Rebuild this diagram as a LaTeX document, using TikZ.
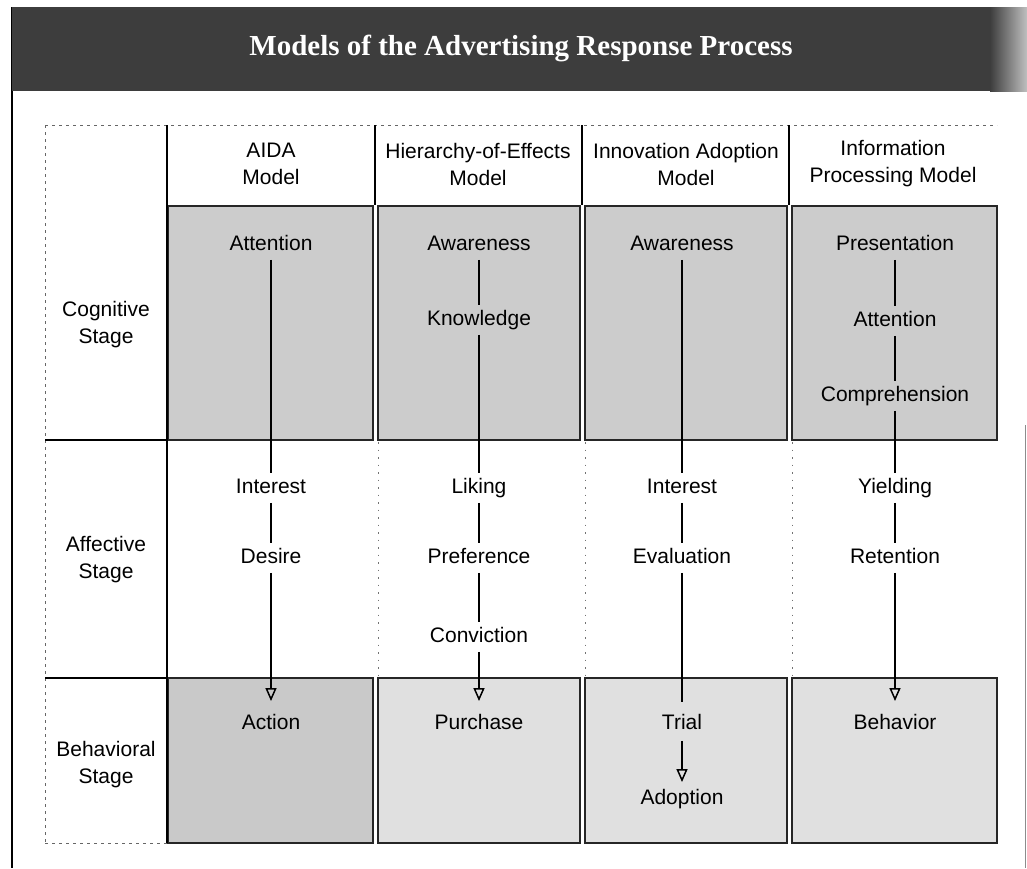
\documentclass[tikz,border=0pt]{standalone}
\usepackage{fontspec}
\setmainfont{Liberation Sans}
\newfontfamily\titlefont{Liberation Serif}
\usetikzlibrary{arrows.meta}

\newcommand\cellsize{\fontsize{21}{27}\selectfont}

\definecolor{barfill}{gray}{0.24}
\definecolor{cogfill}{gray}{0.80}
\definecolor{behfill}{gray}{0.88}
\definecolor{behdark}{gray}{0.79}

\tikzset{
  txt/.style={font=\cellsize, inner xsep=3pt, inner ysep=5pt,
              text height=15pt, text depth=4.5pt},
  head/.style={font=\cellsize, align=center, inner sep=0pt},
  link/.style={line width=2.4pt, black},
  arr/.style={link, -{Triangle[open, length=13pt, width=11pt, line width=1.5pt]}},
  boxline/.style={line width=1.8pt, black!85},
  divider/.style={line width=2.8pt, black},
  softdash/.style={line width=0.9pt, black!60, dash pattern=on 3pt off 4pt},
  softdot/.style={line width=1pt, black!55, dash pattern=on 1.5pt off 6pt},
}

\begin{document}
\begin{tikzpicture}[x=1pt,y=-1pt]
\useasboundingbox (0,0) rectangle (1027,868);

% page frame
\draw[line width=1.6pt] (12,7) -- (12,868);
\draw[line width=1pt, black!45] (1025,425) -- (1025,868);

% title bar
\fill[barfill] (12,7) rectangle (990,91);
\shade[left color=barfill, right color=black!25] (990,7) rectangle (1027,91);
\node[font=\titlefont\bfseries\fontsize{29}{31}\selectfont, text=white, inner sep=0pt]
  (title) at (521,48) {Models of the Advertising Response Process};

% shaded cells: cognitive row
\fill[cogfill] (168,206) rectangle (373,440);
\fill[cogfill] (378,206) rectangle (580,440);
\fill[cogfill] (585,206) rectangle (787,440);
\fill[cogfill] (792,206) rectangle (997,440);
% shaded cells: behavioral row
\fill[behdark] (168,678) rectangle (373,843);
\fill[behfill] (378,678) rectangle (580,843);
\fill[behfill] (585,678) rectangle (787,843);
\fill[behfill] (792,678) rectangle (997,843);

\foreach \xa/\xb in {168/373, 378/580, 585/787, 792/997}{
  \draw[boxline] (\xa,206) rectangle (\xb,440);
  \draw[boxline] (\xa,678) rectangle (\xb,843);
}

% table rules
\draw[softdash] (45,125) -- (997,125);
\draw[softdash] (45,125) -- (45,843);
\draw[softdash] (45,843) -- (167,843);
\draw[divider] (167,125) -- (167,843);
\draw[line width=2.2pt] (45,440) -- (167,440);
\draw[line width=2.2pt] (45,678) -- (167,678);
\foreach \x in {375,582,789}{
  \draw[divider] (\x,125) -- (\x,205);
}
\foreach \x in {378,585,792}{
  \draw[softdot] (\x,442) -- (\x,676);
}

% column heads
\node[head] (hA) at (271,164) {AIDA\\Model};
\node[head] (hB) at (478,164) {Hierarchy-of-Effects\\Model};
\node[head] (hC) at (686,164) {Innovation Adoption\\Model};
\node[head] (hD) at (893,164) {Information\\Processing Model};

% row heads
\node[head] (rCog) at (106,325) {Cognitive\\Stage};
\node[head] (rAff) at (106,560) {Affective\\Stage};
\node[head] (rBeh) at (106,765) {Behavioral\\Stage};

% AIDA model
\node[txt] (a1) at (271,245) {Attention};
\node[txt] (a2) at (271,488) {Interest};
\node[txt] (a3) at (271,558) {Desire};
\node[txt] (a4) at (271,724) {Action};
\draw[link] (a1.south) -- (a2.north);
\draw[link] (a2.south) -- (a3.north);
\draw[arr]  (a3.south) -- ([yshift=8pt]a4.north);

% Hierarchy-of-effects model
\node[txt] (b1) at (479,245) {Awareness};
\node[txt] (b2) at (479,320) {Knowledge};
\node[txt] (b3) at (479,488) {Liking};
\node[txt] (b4) at (479,558) {Preference};
\node[txt] (b5) at (479,637) {Conviction};
\node[txt] (b6) at (479,724) {Purchase};
\draw[link] (b1.south) -- (b2.north);
\draw[link] (b2.south) -- (b3.north);
\draw[link] (b3.south) -- (b4.north);
\draw[link] (b4.south) -- (b5.north);
\draw[arr]  (b5.south) -- ([yshift=8pt]b6.north);

% Innovation adoption model
\node[txt] (c1) at (682,245) {Awareness};
\node[txt] (c2) at (682,488) {Interest};
\node[txt] (c3) at (682,558) {Evaluation};
\node[txt] (c4) at (682,724) {Trial};
\node[txt] (c5) at (682,799) {Adoption};
\draw[link] (c1.south) -- (c2.north);
\draw[link] (c2.south) -- (c3.north);
\draw[link] (c3.south) -- ([yshift=7pt]c4.north);
\draw[arr]  ([yshift=-2pt]c4.south) -- ([yshift=2pt]c5.north);

% Information processing model
\node[txt] (d1) at (895,245) {Presentation};
\node[txt] (d2) at (895,321) {Attention};
\node[txt] (d3) at (895,396) {Comprehension};
\node[txt] (d4) at (895,488) {Yielding};
\node[txt] (d5) at (895,558) {Retention};
\node[txt] (d6) at (895,724) {Behavior};
\draw[link] (d1.south) -- (d2.north);
\draw[link] (d2.south) -- (d3.north);
\draw[link] (d3.south) -- (d4.north);
\draw[link] (d4.south) -- (d5.north);
\draw[arr]  (d5.south) -- ([yshift=8pt]d6.north);
\end{tikzpicture}
\end{document}
